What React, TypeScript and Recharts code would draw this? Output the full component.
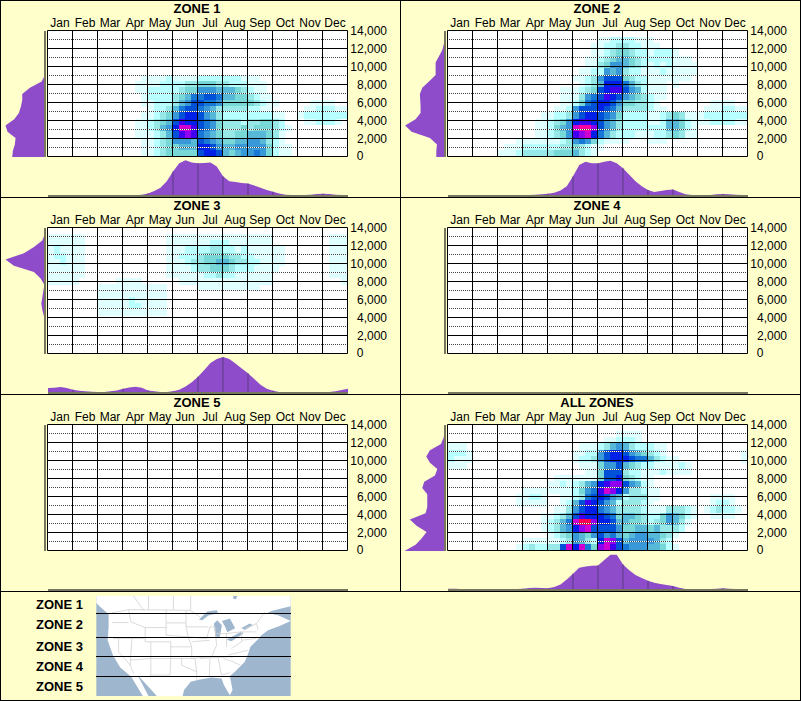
import { Area, AreaChart, CartesianGrid, ReferenceLine, Scatter, ScatterChart, XAxis, YAxis } from 'recharts'

const months = ['Jan', 'Feb', 'Mar', 'Apr', 'May', 'Jun', 'Jul', 'Aug', 'Sep', 'Oct', 'Nov', 'Dec']
const monthTicks = [0.5, 1.5, 2.5, 3.5, 4.5, 5.5, 6.5, 7.5, 8.5, 9.5, 10.5, 11.5]
const monthLines = [0, 1, 2, 3, 4, 5, 6, 7, 8, 9, 10, 11, 12]
const elevTicks = [0, 2000, 4000, 6000, 8000, 10000, 12000, 14000]
const elevDotted = [1000, 3000, 5000, 7000, 9000, 11000, 13000]

// heat levels, one hex digit per quarter month, rows run from 14,000 down to 0
const levelColors = ['#ffffff', '#e0ffff', '#b8ffff', '#98e8e8', '#78d8d8', '#58b8d8', '#3898d8', '#1878d8', '#0050d8', '#0020e8', '#4000f0', '#9000f0', '#d000d0', '#ff00a0', '#ff0050']

const zone1Heat = [
  '', '', '', '', '', '', '',
  '0000 0000 0000 0001 1112 1111 2222 2221 1100',
  '0000 0000 0000 0011 1122 2233 4443 3222 1110',
  '0000 0000 0000 0011 2222 2344 6665 5543 2110',
  '0000 0000 0000 0001 2222 3457 7887 5544 3211',
  '0000 0000 0000 0001 1222 3568 8776 4444 4321 1000 0011 1100',
  '0000 0000 0000 0000 1223 5788 7653 3333 2211 0000 0112 2211',
  '0000 0000 0000 0001 1234 6899 8653 2222 2222 1100 1222 2222',
  '0000 0000 0000 0011 2345 8a99 8764 3332 3344 3200 0112 2210',
  '0000 0000 0000 0011 2356 9cca 8764 3334 3444 3210',
  '0000 0000 0000 0011 1235 8aba 7654 3344 5554 3100',
  '0000 0000 0000 0001 1234 6665 8765 4455 6653 2100',
  '0000 0000 0000 0001 1234 4555 9986 5566 6664 2110',
  '0000 0000 0000 0001 1234 4444 8998 5456 6764 2110',
]
const zone2Heat = [
  '',
  '0000 0000 0000 0000 0000 0000 1122 2211 1000',
  '0000 0000 0000 0000 0000 0001 1223 3221 1100',
  '0000 0000 0000 0000 0000 0001 1234 4322 1222 1000',
  '0000 0000 0000 0000 0000 0011 2345 5432 2222 1110',
  '0000 0000 0000 0000 0000 0011 3466 5432 1212 1111',
  '0000 0000 0000 0000 0000 0112 2656 3221 1121 1111',
  '0000 0000 0000 0000 0000 1123 6888 4322 1111 1110',
  '0000 0000 0000 0000 0000 0123 5999 7532 1110 1000',
  '0000 0000 0000 0000 0011 1234 89aa 8652 1110',
  '0000 0000 0000 0000 0011 1367 8a98 6543 2110',
  '0000 0000 0000 0000 0011 2478 9986 4433 2100 0000 0011 1100',
  '0000 0000 0000 0000 0112 6888 9875 3333 2110 0000 0111 2211',
  '0000 0000 0000 0001 1223 6899 8764 2222 1123 4311 1222 2222',
  '0000 0000 0000 0011 2346 9aa9 8653 2222 1125 5421 1122 2211',
  '0000 0000 0000 0011 2456 cddb 8653 2222 2225 5421',
  '0000 0000 0000 0011 2346 abc9 7532 2211 1223 4311',
  '0000 0000 0001 1111 1123 6764 2111 1000 1110',
  '0000 0000 0111 2222 2233 4321 1',
  '0000 0000 1112 3333 3444 5321',
]
const zone3Heat = [
  '',
  '1111 1100 0000 0000 0001 1111 1111 1111 1111 0000 0000 0111',
  '1111 1100 0000 0000 0001 1111 1122 2111 1111 0000 0000 0111',
  '1211 1100 0000 0000 0001 1122 2233 2212 1111 1100 0000 0111',
  '1221 1100 0000 0000 0001 1222 3444 4332 2111 1100 0000 0111',
  '1121 1100 0000 0000 0001 1123 3445 5433 2211 1100 0000 0111',
  '1111 1100 0000 0000 0001 1112 3344 4322 2111 1000 0000 0111',
  '1111 1100 0000 0000 0001 1111 1223 2211 1111 0000 0000 0111',
  '1111 1000 0001 1110 0000 0111 1111 1111 1111 0000 0000 0001',
  '0000 0000 1111 1111 1110 0000 1111 1111 1100',
  '0000 0000 1111 1111 1110',
  '0000 0000 1111 1211 1110',
  '0000 0000 1111 1221 1110',
  '0000 0000 1111 1111 1110',
]
const zone4Heat = ['0']
const zone5Heat = ['0']
const allHeat = [
  '',
  '0000 0000 0000 0000 0000 0000 0001 1110',
  '0000 0000 0000 0000 0000 0000 0112 2210',
  '1110 0000 0000 0000 0000 0111 2356 5322 2110',
  '2221 0000 0000 0000 0000 1122 6899 8654 3210 0000 0000 0001',
  '2111 0000 0000 0000 0000 1223 6899 9877 5321 1000 0000 0001',
  '1110 0000 0000 0000 0000 0111 4668 5432 2111 1210',
  '0000 0000 0000 0000 0000 0011 4888 3221 1121 1110',
  '0000 0000 0000 0000 0111 1111 4889 4321 1000',
  '0000 0000 0000 0000 1121 2356 9abb 8652 1000',
  '0000 0000 0000 1111 1111 2467 acb9 6332 1100',
  '0000 0000 0001 1221 0011 2378 9865 2333 1100 0000 0011 1100',
  '0000 0000 0001 1111 0012 58a9 8652 3332 1000 0000 0012 2100',
  '0000 0000 0000 0000 0113 6899 7653 3332 1113 3321 0123 2210',
  '0000 0000 0000 0001 1235 8a99 9874 5543 2246 5421 0011 1100',
  '0000 0000 0000 0001 2357 ceeb 9985 5443 2346 5310',
  '0000 0000 0000 0001 2356 9bc8 8886 4455 4533 3200',
  '0000 0000 0000 0000 1234 6546 8675 4566 5543 1000',
  '0000 0000 0000 1111 1123 6532 9cb8 5666 6532 0000',
  '0000 0000 0001 2322 338c 9c74 bca8 7666 5542 1000',
]

// bottom strip, share of records per quarter month
const zone1Bottom = [1, 1, 1, 1, 1, 1, 1, 1, 1, 1, 1, 1, 1, 1, 2, 4, 8, 15, 25, 45, 75, 100, 109, 102, 100, 101, 102, 90, 60, 45, 43, 40, 38, 32, 25, 18, 13, 8, 4, 3, 3, 3, 4, 6, 7, 6, 4, 3, 2]
const zone2Bottom = [1, 1, 1, 1, 1, 1, 1, 1, 1, 1, 1, 2, 3, 3, 4, 5, 7, 10, 17, 30, 60, 95, 105, 100, 100, 105, 108, 100, 85, 65, 45, 30, 18, 12, 15, 18, 20, 12, 5, 3, 2, 3, 3, 5, 6, 5, 4, 3, 2]
const zone3Bottom = [15, 16, 18, 15, 10, 7, 5, 4, 3, 3, 5, 8, 13, 17, 19, 16, 8, 5, 3, 3, 5, 10, 20, 33, 50, 70, 92, 104, 110, 104, 90, 75, 60, 43, 25, 13, 7, 3, 2, 2, 2, 2, 2, 2, 2, 3, 5, 9, 13]
const zone4Bottom = [0, 0, 0, 0, 0, 0, 0, 0, 0, 0, 0, 0, 0, 0, 0, 0, 0, 0, 0, 0, 0, 0, 0, 0, 0, 0, 0, 0, 0, 0, 0, 0, 0, 0, 0, 0, 0, 0, 0, 0, 0, 0, 0, 0, 0, 0, 0, 0, 0]
const zone5Bottom = [0, 0, 0, 0, 0, 0, 0, 0, 0, 0, 0, 0, 0, 0, 0, 0, 0, 0, 0, 0, 0, 0, 0, 0, 0, 0, 0, 0, 0, 0, 0, 0, 0, 0, 0, 0, 0, 0, 0, 0, 0, 0, 0, 0, 0, 0, 0, 0, 0]
const allBottom = [4, 4, 3, 3, 2, 2, 2, 2, 2, 2, 2, 3, 4, 6, 7, 6, 5, 9, 17, 32, 50, 68, 72, 74, 75, 92, 108, 108, 78, 60, 46, 37, 28, 22, 18, 15, 12, 7, 3, 2, 2, 2, 3, 4, 5, 4, 3, 2, 2]

// left strip, share of records per 700 ft, from 0 up to 14,000
const zone1Left = [98, 96, 90, 88, 112, 118, 92, 78, 72, 68, 68, 45, 10, 0, 0, 0, 0, 0, 0, 0, 0]
const zone2Left = [26, 26, 24, 45, 100, 119, 88, 73, 73, 74, 75, 68, 48, 28, 28, 28, 18, 8, 3, 0, 0]
const zone3Left = [0, 0, 0, 0, 0, 0, 3, 8, 11, 8, 5, 2, 13, 33, 93, 118, 63, 33, 8, 1, 0]
const zone4Left = [0, 0, 0, 0, 0, 0, 0, 0, 0, 0, 0, 0, 0, 0, 0, 0, 0, 0, 0, 0, 0]
const zone5Left = [0, 0, 0, 0, 0, 0, 0, 0, 0, 0, 0, 0, 0, 0, 0, 0, 0, 0, 0, 0, 0]
const allLeft = [121, 88, 70, 55, 85, 105, 58, 53, 53, 53, 68, 62, 30, 23, 45, 56, 45, 12, 4, 1, 0]

const legendZones = ['ZONE 1', 'ZONE 2', 'ZONE 3', 'ZONE 4', 'ZONE 5']
const legendLabelY = [605, 625, 647, 667, 687]
const zoneBreaks = [613, 637, 656, 676]

const FONT = '"Liberation Sans", Arial, sans-serif'
const PAGE = '#ffffcc'
const PURPLE = '#8e4ccb'
const INNER = '#5b3a80'
const AXIS_GRAY = '#77775f'
const OCEAN = '#9fb6cf'
const CELL_W = 300 / 48
const CELL_H = 126 / 20

type Cell = { month: number; elev: number; level: number }

function toCells(rows: string[]): Cell[] {
  const cells: Cell[] = []
  rows.forEach((row, j) => {
    row.replace(/ /g, '').split('').forEach((ch, i) => {
      cells.push({ month: (i + 0.5) / 4, elev: (19.5 - j) * 700, level: parseInt(ch, 16) })
    })
  })
  return cells
}

function HeatCell(props: any) {
  const { cx, cy, payload } = props
  if (!payload.level) return <g />
  return (
    <rect
      x={cx - CELL_W / 2}
      y={cy - CELL_H / 2}
      width={CELL_W + 0.4}
      height={CELL_H + 0.4}
      fill={levelColors[payload.level]}
      shapeRendering="crispEdges"
    />
  )
}

function MonthTick(props: any) {
  const { x, payload } = props
  return (
    <text x={x} y={27} textAnchor="middle" fontSize={12} fontFamily={FONT} fill="#000">
      {months[Math.floor(payload.value)]}
    </text>
  )
}

function ElevTick(props: any) {
  const { y, payload } = props
  const zero = payload.value === 0
  return (
    <text x={zero ? 360 : 387} y={zero ? y + 3 : y + 4} textAnchor={zero ? 'middle' : 'end'} fontSize={12} fontFamily={FONT} fill="#000">
      {payload.value.toLocaleString('en-US')}
    </text>
  )
}

function HeatChart({ rows }: { rows: string[] }) {
  return (
    <ScatterChart width={400} height={165} margin={{ top: 0, right: 0, bottom: 8.5, left: 47.5 }}>
      <CartesianGrid horizontal={false} vertical={false} fill="#fff" />
      <XAxis
        xAxisId={0}
        type="number"
        dataKey="month"
        orientation="top"
        domain={[0, 12]}
        ticks={monthTicks}
        interval={0}
        height={30.5}
        axisLine={false}
        tickLine={false}
        tick={MonthTick}
      />
      <YAxis
        yAxisId={0}
        type="number"
        dataKey="elev"
        orientation="right"
        domain={[0, 14000]}
        ticks={elevTicks}
        interval={0}
        width={52.5}
        axisLine={false}
        tickLine={false}
        tick={ElevTick}
      />
      <Scatter data={toCells(rows)} shape={HeatCell} isAnimationActive={false} />
      {elevDotted.map((e) => (
        <ReferenceLine key={'w' + e} y={e} stroke="#fff" strokeWidth={1} zIndex={700} />
      ))}
      {elevDotted.map((e) => (
        <ReferenceLine key={'d' + e} y={e} stroke="#444" strokeWidth={1} strokeDasharray="1 1" strokeDashoffset={0.5} zIndex={701} />
      ))}
      {elevTicks.map((e) => (
        <ReferenceLine key={'s' + e} y={e} stroke="#000" strokeWidth={1} zIndex={702} />
      ))}
      {monthLines.map((m) => (
        <ReferenceLine key={'m' + m} x={m} stroke="#000" strokeWidth={1} zIndex={702} />
      ))}
    </ScatterChart>
  )
}

function BottomStrip({ values }: { values: number[] }) {
  const data = values.map((v, i) => ({ q: i, v }))
  return (
    <AreaChart width={302} height={38} data={data} margin={{ top: 0, right: 1, bottom: 2, left: 1 }}>
      <XAxis type="number" dataKey="q" domain={[0, 48]} hide />
      <YAxis type="number" domain={[0, 110]} hide />
      <Area type="linear" dataKey="v" fill={PURPLE} fillOpacity={1} stroke="none" isAnimationActive={false} />
      {monthLines.slice(1, 12).map((m) => (
        <ReferenceLine
          key={m}
          segment={[{ x: m * 4, y: 0 }, { x: m * 4, y: values[m * 4] }]}
          stroke={INNER}
          strokeWidth={1}
        />
      ))}
      <ReferenceLine y={0} stroke={AXIS_GRAY} strokeWidth={2} />
    </AreaChart>
  )
}

function LeftStrip({ values }: { values: number[] }) {
  const data = values.map((v, k) => ({ elev: k * 700, v }))
  return (
    <AreaChart width={46} height={128} layout="vertical" data={data} margin={{ top: 1, right: 1, bottom: 1, left: 4.5 }}>
      <XAxis type="number" domain={[0, 121]} reversed hide />
      <YAxis type="number" dataKey="elev" domain={[0, 14000]} reversed hide />
      <Area type="linear" dataKey="v" fill={PURPLE} fillOpacity={1} stroke="none" isAnimationActive={false} />
      {elevTicks.slice(1, 7).map((e) => (
        <ReferenceLine
          key={e}
          segment={[{ x: 0, y: e }, { x: values[e / 700], y: e }]}
          stroke={INNER}
          strokeWidth={1}
        />
      ))}
      <ReferenceLine x={0} stroke={AXIS_GRAY} strokeWidth={2} />
    </AreaChart>
  )
}

type PanelProps = { title: string; left: number; top: number; rows: string[]; bottom: number[]; side: number[] }

function Panel({ title, left, top, rows, bottom, side }: PanelProps) {
  return (
    <div style={{ position: 'absolute', left, top, width: 400, height: 197 }}>
      <div style={{ position: 'absolute', left: 47, top: 1, width: 300, textAlign: 'center', font: `bold 13px ${FONT}`, lineHeight: '16px', color: '#000' }}>
        {title}
      </div>
      <div style={{ position: 'absolute', left: 0, top: 0 }}>
        <HeatChart rows={rows} />
      </div>
      <div style={{ position: 'absolute', left: 0, top: 29.5 }}>
        <LeftStrip values={side} />
      </div>
      <div style={{ position: 'absolute', left: 46.5, top: 160 }}>
        <BottomStrip values={bottom} />
      </div>
    </div>
  )
}

// background map of the legend, a plain sketch and no data
function ZoneMap() {
  return (
    <svg viewBox="288 17 585 301" width={195} height={100} style={{ position: 'absolute', left: 96, top: 596 }}>
      <rect x={288} y={17} width={585} height={301} fill={OCEAN} />
      <path
        fill="#fff"
        d="M288 17 L873 17 L873 48 L845 55 L815 62 L795 72 L812 70 L835 75 L873 92 L838 108 L805 120 L785 135 L772 150 L752 170 L745 190 L735 215 L705 245 L690 258 L698 300 L690 316 L672 285 L665 265 L635 262 L600 268 L572 275 L552 300 L548 318 L470 318 L445 290 L412 255 L445 318 L428 318 L393 260 L360 232 L338 195 L322 150 L325 110 L325 72 L300 50 L288 38 Z"
      />
      <path
        fill={OCEAN}
        d="M597 88 L622 64 L650 60 L655 68 L625 76 L607 90 Z M642 100 L652 90 L666 105 L660 140 L646 140 Z M666 92 L690 85 L706 114 L682 126 L676 110 Z M680 149 L725 124 L731 130 L695 153 Z M725 113 L750 100 L760 105 L735 119 Z M700 17 L712 17 L708 27 L700 25 Z"
      />
      <path
        fill="none"
        stroke="#d4d4d4"
        strokeWidth={2.5}
        d="M400 17 L430 60 M445 17 L445 58 M520 17 L520 58 M572 17 L572 60 M325 70 L385 58 L570 60 L600 80 M735 115 L770 100 L795 65 M335 97 L385 97 M385 58 L392 95 L435 112 L500 112 M498 58 L498 135 L565 140 M498 98 L558 98 M558 60 L558 110 L625 110 M558 110 L565 140 L575 170 L575 205 M435 112 L435 155 L512 155 L512 205 M340 145 L435 145 M395 145 L390 225 M355 145 L355 185 L390 225 L400 250 M390 210 L452 205 L512 205 M452 155 L452 262 M512 205 L510 255 L450 255 M512 170 L575 170 M512 205 L585 205 L590 245 L590 270 M545 205 L545 225 L590 245 M565 140 L620 145 L630 110 M575 155 L630 150 M575 205 L635 200 M630 110 L645 110 L650 165 L635 200 M650 130 L680 130 L680 170 M680 130 L725 125 L725 155 L695 175 M600 205 L700 200 M630 205 L628 262 M655 205 L665 255 L690 248 M670 205 L700 215 L720 225 M685 195 L745 180 M725 125 L770 125 M725 150 L770 145 M775 120 L770 100"
      />
    </svg>
  )
}

const rules: React.CSSProperties[] = [
  { left: 0, top: 0, width: 801, height: 1 },
  { left: 0, top: 197, width: 801, height: 1 },
  { left: 0, top: 394, width: 801, height: 1 },
  { left: 0, top: 591, width: 801, height: 1 },
  { left: 0, top: 700, width: 801, height: 1 },
  { left: 0, top: 0, width: 1, height: 701 },
  { left: 800, top: 0, width: 1, height: 701 },
  { left: 400, top: 0, width: 1, height: 591 },
]

export default function App() {
  return (
    <div style={{ position: 'absolute', left: 0, top: 0, width: 801, height: 701, background: PAGE, overflow: 'hidden' }}>
      <Panel title="ZONE 1" left={0} top={0} rows={zone1Heat} bottom={zone1Bottom} side={zone1Left} />
      <Panel title="ZONE 2" left={400} top={0} rows={zone2Heat} bottom={zone2Bottom} side={zone2Left} />
      <Panel title="ZONE 3" left={0} top={197} rows={zone3Heat} bottom={zone3Bottom} side={zone3Left} />
      <Panel title="ZONE 4" left={400} top={197} rows={zone4Heat} bottom={zone4Bottom} side={zone4Left} />
      <Panel title="ZONE 5" left={0} top={394} rows={zone5Heat} bottom={zone5Bottom} side={zone5Left} />
      <Panel title="ALL ZONES" left={400} top={394} rows={allHeat} bottom={allBottom} side={allLeft} />
      {rules.map((r, i) => (
        <div key={i} style={{ position: 'absolute', background: '#000', ...r }} />
      ))}
      <ZoneMap />
      {legendZones.map((z, i) => (
        <div key={z} style={{ position: 'absolute', left: 36, top: legendLabelY[i] - 8, font: `bold 13px ${FONT}`, lineHeight: '16px', color: '#000' }}>
          {z}
        </div>
      ))}
      {zoneBreaks.map((y) => (
        <div key={y} style={{ position: 'absolute', left: 96, top: y, width: 195, height: 1, background: '#000' }} />
      ))}
    </div>
  )
}
